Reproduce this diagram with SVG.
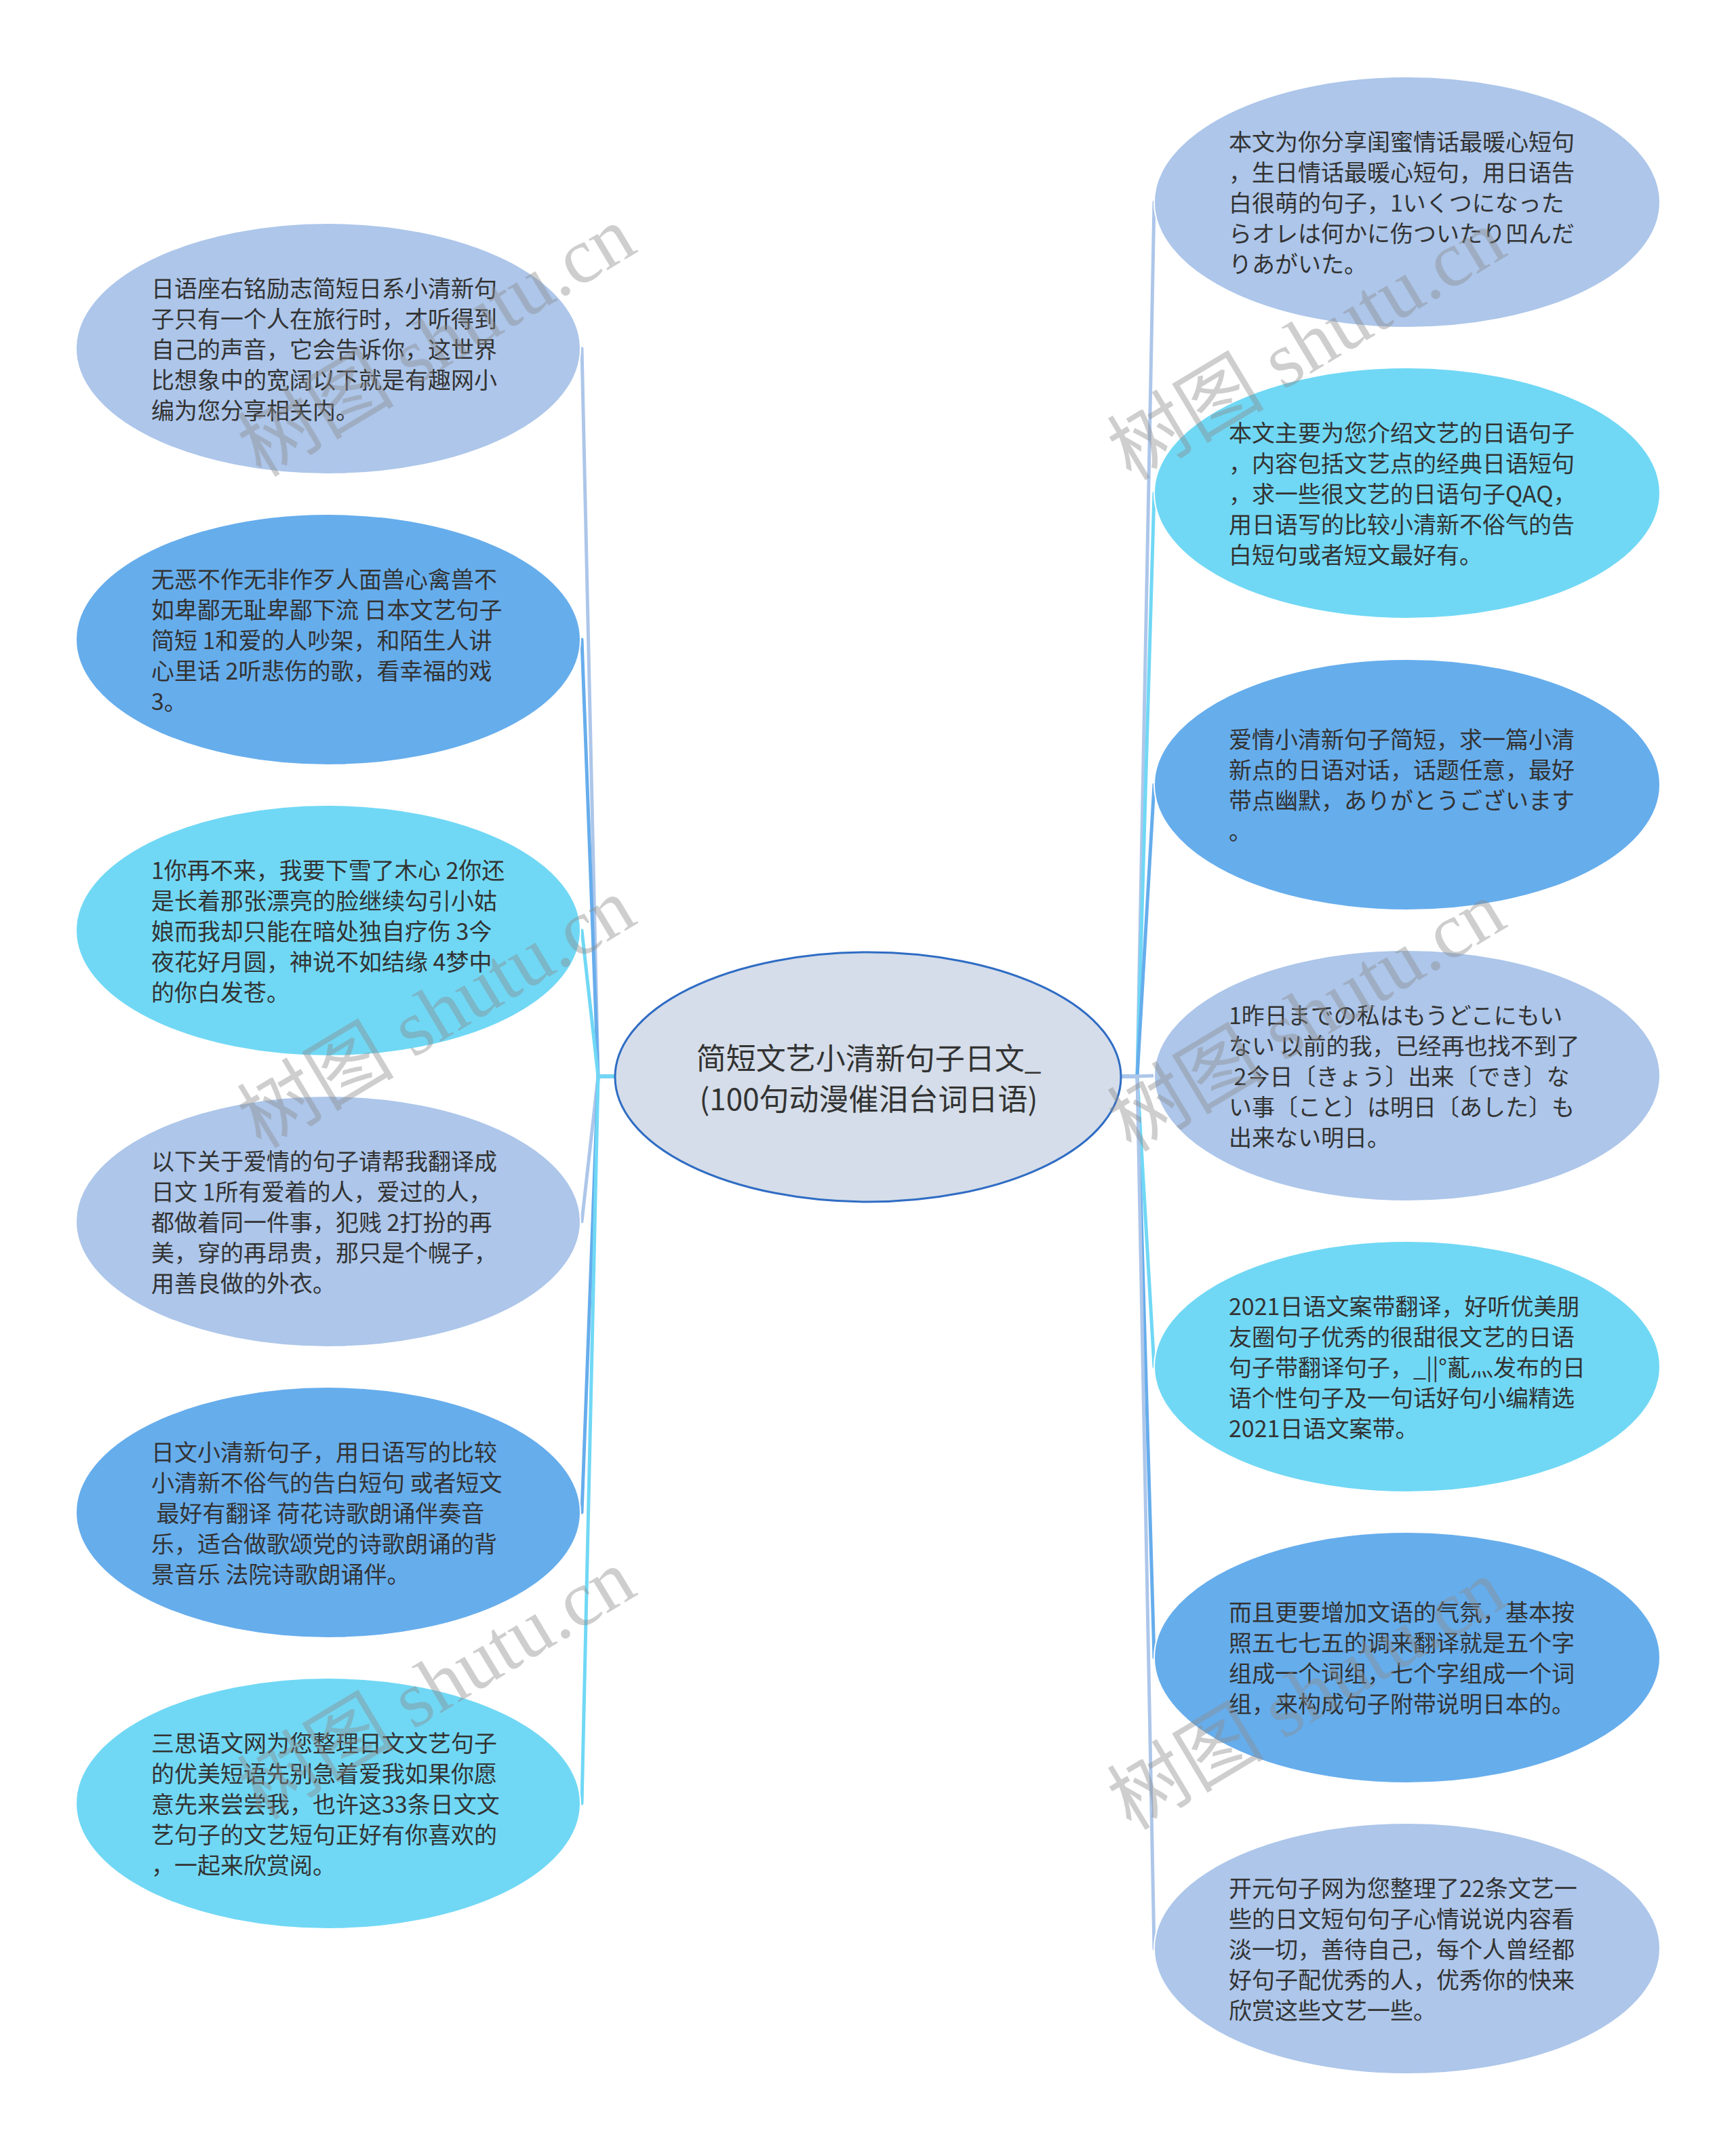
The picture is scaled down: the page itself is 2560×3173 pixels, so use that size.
<svg xmlns="http://www.w3.org/2000/svg" width="2560" height="3173" viewBox="0 0 2560 3173">
<style>
.t{font-family:"Noto Sans CJK SC","Noto Sans",sans-serif;font-size:34px;fill:#333333;white-space:pre}
.ct{font-family:"Noto Sans CJK SC","Noto Sans",sans-serif;font-size:44px;fill:#333333;text-anchor:middle}
.lav{fill:#adc6ea;stroke:#ffffff;stroke-width:2}
.blu{fill:#66adec;stroke:#ffffff;stroke-width:2}
.cya{fill:#70d8f5;stroke:#ffffff;stroke-width:2}
.c{fill:none;stroke-width:5;stroke-linejoin:round;stroke-linecap:round}
.wm{font-family:"Liberation Serif","Noto Sans CJK SC",serif;font-size:116px;fill:#8c8c8c;opacity:0.42}
</style>
<rect width="2560" height="3173" fill="#ffffff"/>
<g id="connectors">
<path class="c" stroke="#adc6ea" d="M906 1587 L882 1587 L858 514"/>
<path class="c" stroke="#66adec" d="M906 1587 L882 1587 L858 943"/>
<path class="c" stroke="#70d8f5" d="M906 1587 L882 1587 L858 1372"/>
<path class="c" stroke="#adc6ea" d="M906 1587 L882 1587 L858 1801"/>
<path class="c" stroke="#66adec" d="M906 1587 L882 1587 L858 2230"/>
<path class="c" stroke="#70d8f5" d="M906 1587 L882 1587 L858 2659"/>
<path class="c" stroke="#adc6ea" d="M1653 1587 L1677 1587 L1702 298"/>
<path class="c" stroke="#70d8f5" d="M1653 1587 L1677 1587 L1702 727"/>
<path class="c" stroke="#66adec" d="M1653 1587 L1677 1587 L1702 1157"/>
<path class="c" stroke="#66adec" d="M1653 1587 L1677 1587 L1702 2444"/>
<path class="c" stroke="#70d8f5" d="M1653 1587 L1677 1587 L1702 2015"/>
<path class="c" stroke="#adc6ea" d="M1653 1587 L1677 1587 L1702 2873"/>
<path class="c" stroke="#adc6ea" d="M1653 1587 L1677 1587 L1702 1586"/>
</g>
<g id="center">
<ellipse cx="1280" cy="1588" rx="373" ry="184" fill="#d4dde9" stroke="#2f6cc4" stroke-width="3"/>
<text class="ct" x="1281" y="1577">简短文艺小清新句子日文_</text>
<text class="ct" x="1281" y="1637">(100句动漫催泪台词日语)</text>
</g>
<g id="left1">
<ellipse class="lav" cx="484" cy="514" rx="372" ry="185"/>
<text class="t" x="223" y="438"><tspan x="223">日语座右铭励志简短日系小清新句</tspan><tspan x="223" dy="45">子只有一个人在旅行时，才听得到</tspan><tspan x="223" dy="45">自己的声音，它会告诉你，这世界</tspan><tspan x="223" dy="45">比想象中的宽阔以下就是有趣网小</tspan><tspan x="223" dy="45">编为您分享相关内。</tspan></text>
</g>
<g id="left2">
<ellipse class="blu" cx="484" cy="943" rx="372" ry="185"/>
<text class="t" x="223" y="867"><tspan x="223">无恶不作无非作歹人面兽心禽兽不</tspan><tspan x="223" dy="45">如卑鄙无耻卑鄙下流 日本文艺句子</tspan><tspan x="223" dy="45">简短 1和爱的人吵架，和陌生人讲</tspan><tspan x="223" dy="45">心里话 2听悲伤的歌，看幸福的戏</tspan><tspan x="223" dy="45">3。</tspan></text>
</g>
<g id="left3">
<ellipse class="cya" cx="484" cy="1372" rx="372" ry="185"/>
<text class="t" x="223" y="1296"><tspan x="223">1你再不来，我要下雪了木心 2你还</tspan><tspan x="223" dy="45">是长着那张漂亮的脸继续勾引小姑</tspan><tspan x="223" dy="45">娘而我却只能在暗处独自疗伤 3今</tspan><tspan x="223" dy="45">夜花好月圆，神说不如结缘 4梦中</tspan><tspan x="223" dy="45">的你白发苍。</tspan></text>
</g>
<g id="left4">
<ellipse class="lav" cx="484" cy="1801" rx="372" ry="185"/>
<text class="t" x="223" y="1725"><tspan x="223">以下关于爱情的句子请帮我翻译成</tspan><tspan x="223" dy="45">日文 1所有爱着的人，爱过的人，</tspan><tspan x="223" dy="45">都做着同一件事，犯贱 2打扮的再</tspan><tspan x="223" dy="45">美，穿的再昂贵，那只是个幌子，</tspan><tspan x="223" dy="45">用善良做的外衣。</tspan></text>
</g>
<g id="left5">
<ellipse class="blu" cx="484" cy="2230" rx="372" ry="185"/>
<text class="t" x="223" y="2154"><tspan x="223">日文小清新句子，用日语写的比较</tspan><tspan x="223" dy="45">小清新不俗气的告白短句 或者短文</tspan><tspan x="223" dy="45"> 最好有翻译 荷花诗歌朗诵伴奏音</tspan><tspan x="223" dy="45">乐，适合做歌颂党的诗歌朗诵的背</tspan><tspan x="223" dy="45">景音乐 法院诗歌朗诵伴。</tspan></text>
</g>
<g id="left6">
<ellipse class="cya" cx="484" cy="2659" rx="372" ry="185"/>
<text class="t" x="223" y="2583"><tspan x="223">三思语文网为您整理日文文艺句子</tspan><tspan x="223" dy="45">的优美短语先别急着爱我如果你愿</tspan><tspan x="223" dy="45">意先来尝尝我，也许这33条日文文</tspan><tspan x="223" dy="45">艺句子的文艺短句正好有你喜欢的</tspan><tspan x="223" dy="45">，一起来欣赏阅。</tspan></text>
</g>
<g id="right1">
<ellipse class="lav" cx="2075" cy="298" rx="373" ry="185"/>
<text class="t" x="1812" y="222"><tspan x="1812">本文为你分享闺蜜情话最暖心短句</tspan><tspan x="1812" dy="45">，生日情话最暖心短句，用日语告</tspan><tspan x="1812" dy="45">白很萌的句子，1いくつになった</tspan><tspan x="1812" dy="45">らオレは何かに伤ついたり凹んだ</tspan><tspan x="1812" dy="45">りあがいた。</tspan></text>
</g>
<g id="right2">
<ellipse class="cya" cx="2075" cy="727" rx="373" ry="185"/>
<text class="t" x="1812" y="651"><tspan x="1812">本文主要为您介绍文艺的日语句子</tspan><tspan x="1812" dy="45">，内容包括文艺点的经典日语短句</tspan><tspan x="1812" dy="45">，求一些很文艺的日语句子QAQ，</tspan><tspan x="1812" dy="45">用日语写的比较小清新不俗气的告</tspan><tspan x="1812" dy="45">白短句或者短文最好有。</tspan></text>
</g>
<g id="right3">
<ellipse class="blu" cx="2075" cy="1157" rx="373" ry="185"/>
<text class="t" x="1812" y="1103"><tspan x="1812">爱情小清新句子简短，求一篇小清</tspan><tspan x="1812" dy="45">新点的日语对话，话题任意，最好</tspan><tspan x="1812" dy="45">带点幽默，ありがとうございます</tspan><tspan x="1812" dy="45">。</tspan></text>
</g>
<g id="right4">
<ellipse class="lav" cx="2075" cy="1586" rx="373" ry="185"/>
<text class="t" x="1812" y="1510"><tspan x="1812">1昨日までの私はもうどこにもい</tspan><tspan x="1812" dy="45">ない 以前的我，已经再也找不到了</tspan><tspan x="1812" dy="45"> 2今日〔きょう〕出来〔でき〕な</tspan><tspan x="1812" dy="45">い事〔こと〕は明日〔あした〕も</tspan><tspan x="1812" dy="45">出来ない明日。</tspan></text>
</g>
<g id="right5">
<ellipse class="cya" cx="2075" cy="2015" rx="373" ry="185"/>
<text class="t" x="1812" y="1939"><tspan x="1812">2021日语文案带翻译，好听优美朋</tspan><tspan x="1812" dy="45">友圈句子优秀的很甜很文艺的日语</tspan><tspan x="1812" dy="45">句子带翻译句子，_||°薍灬发布的日</tspan><tspan x="1812" dy="45">语个性句子及一句话好句小编精选</tspan><tspan x="1812" dy="45">2021日语文案带。</tspan></text>
</g>
<g id="right6">
<ellipse class="blu" cx="2075" cy="2444" rx="373" ry="185"/>
<text class="t" x="1812" y="2390"><tspan x="1812">而且更要增加文语的气氛，基本按</tspan><tspan x="1812" dy="45">照五七七五的调来翻译就是五个字</tspan><tspan x="1812" dy="45">组成一个词组，七个字组成一个词</tspan><tspan x="1812" dy="45">组，来构成句子附带说明日本的。</tspan></text>
</g>
<g id="right7">
<ellipse class="lav" cx="2075" cy="2873" rx="373" ry="185"/>
<text class="t" x="1812" y="2797"><tspan x="1812">开元句子网为您整理了22条文艺一</tspan><tspan x="1812" dy="45">些的日文短句句子心情说说内容看</tspan><tspan x="1812" dy="45">淡一切，善待自己，每个人曾经都</tspan><tspan x="1812" dy="45">好句子配优秀的人，优秀你的快来</tspan><tspan x="1812" dy="45">欣赏这些文艺一些。</tspan></text>
</g>
<g id="watermarks">
<text class="wm" transform="translate(385 705) rotate(-31)">树图 shutu.cn</text>
<text class="wm" transform="translate(385 1695) rotate(-31)">树图 shutu.cn</text>
<text class="wm" transform="translate(385 2685) rotate(-31)">树图 shutu.cn</text>
<text class="wm" transform="translate(1668 710) rotate(-31)">树图 shutu.cn</text>
<text class="wm" transform="translate(1668 1700) rotate(-31)">树图 shutu.cn</text>
<text class="wm" transform="translate(1668 2700) rotate(-31)">树图 shutu.cn</text>
</g>
</svg>
